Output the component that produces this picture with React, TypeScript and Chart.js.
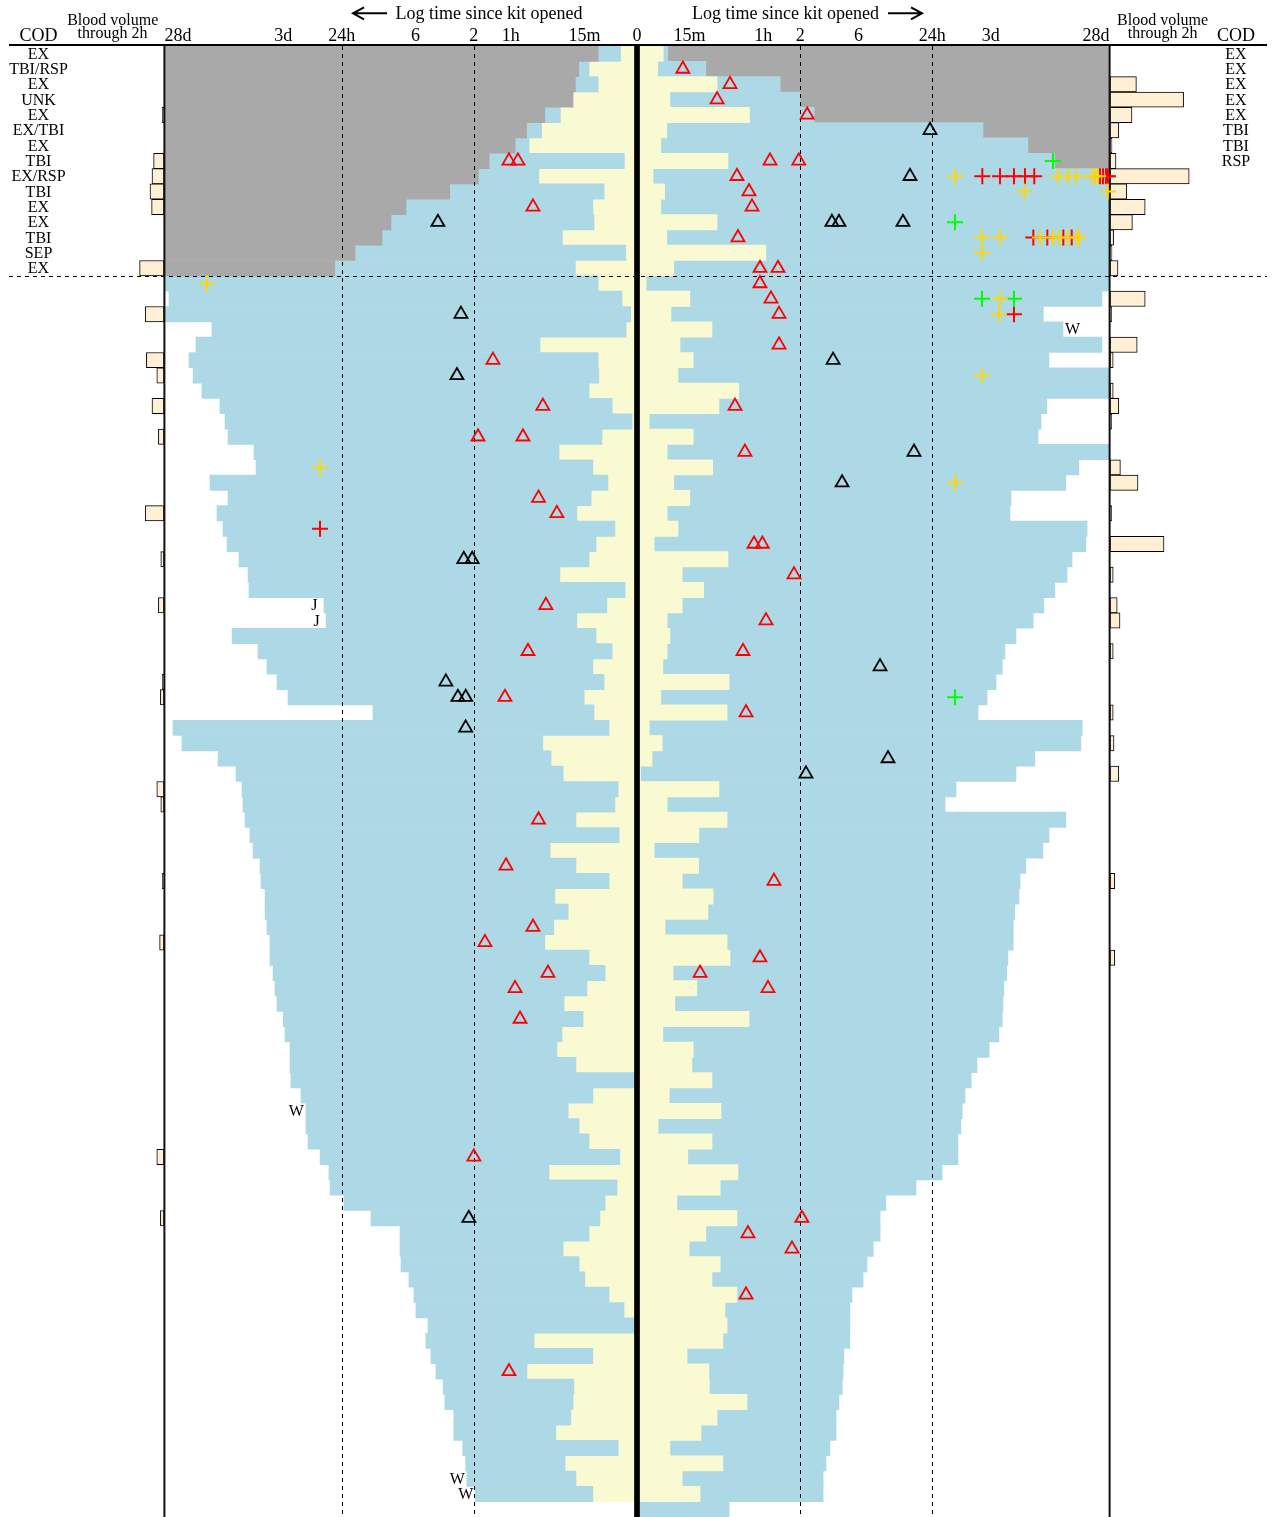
import React, { useEffect, useRef } from 'react';
import { Chart, registerables, LinearScale } from 'chart.js';

Chart.register(...registerables);

// ---------------- data ----------------
const FULL = 40320; // 28 days, in minutes (edge of the time axis)
const GREY_ROWS = 15; // rows above the dashed separator

const codLeft = ['EX', 'TBI/RSP', 'EX', 'UNK', 'EX', 'EX/TBI', 'EX', 'TBI', 'EX/RSP', 'TBI', 'EX', 'EX', 'TBI', 'SEP', 'EX'];
const codRight = ['EX', 'EX', 'EX', 'EX', 'EX', 'TBI', 'TBI', 'RSP'];

const tickMinutes = [15, 60, 120, 360, 1440, 4320, 40320];
const tickLabels = ['15m', '1h', '2', '6', '24h', '3d', '28d'];
const dashedMinutes = [120, 1440];

// minutes since kit opened, per row (left half)
const leftYellow = [
  4.7, 13.7, 11.1, 18.6, 23.6, 33.6, 42.5, 3.6, 35.4, 9.4,
  12.6, 12.3, 22.7, 3.2, 17.8, 11.1, 4.3, 1.8, 3.1, 34.6,
  11.1, 10.9, 13.7, 7.1, 1.4, 10.0, 24.2, 12.6, 8.3, 13.1,
  17.3, 6.3, 11.7, 13.7, 23.8, 3.4, 8.6, 17.3, 11.7, 7.1,
  12.6, 9.4, 15.1, 12.3, 8.0, 32.8, 28.1, 22.4, 5.4, 6.3,
  17.6, 5.1, 28.6, 17.6, 8.0, 26.2, 20.4, 26.7, 31.6, 13.7,
  9.1, 14.3, 22.0, 15.4, 22.9, 25.2, 17.6, 0.6, 12.6, 20.4,
  16.6, 13.7, 4.9, 29.2, 5.7, 9.1, 10.6, 13.7, 22.4, 16.6,
  14.9, 8.0, 3.7, 0.6, 38.7, 12.6, 44.2, 18.3, 18.6, 19.4,
  25.7, 5.4, 21.6, 17.6, 12.6, 0,
];
const leftBlue = [
  11.1, 16.7, 17.8, 18.6, 31.6, 44.6, 55.2, 90, 110, 189,
  430, 570, 675, 1120, 1640, 40320, 37000, 40320, 16500, 22300,
  25400, 23500, 19900, 14200, 12900, 12200, 7480, 7200, 17100, 12200,
  15000, 13400, 12400, 9920, 8370, 8220, 2010, 1930, 11300, 6940,
  5860, 4860, 3950, 800, 34300, 29000, 14700, 10500, 9370, 9200,
  8860, 8070, 7620, 6680, 6560, 6080, 6080, 5860, 5540, 5540,
  5230, 5040, 4860, 4320, 4180, 3800, 3800, 3740, 3090, 2820,
  2820, 2710, 2160, 1830, 1790, 1380, 830, 481, 481, 472,
  407, 370, 357, 284, 296, 269, 245, 214, 207, 175,
  175, 148, 140, 137, 117, 0,
];
// right half
const rightYellow = [
  7.5, 5.9, 25.2, 9.4, 46.3, 8.5, 6.8, 30.9, 4.6, 7.9,
  6.8, 25.2, 8.5, 63.0, 10.5, 2.6, 15.1, 9.7, 22.9, 12.3,
  16.1, 11.7, 37.9, 26.1, 3.5, 16.1, 8.6, 23.2, 10.5, 15.1,
  8.6, 11.7, 4.9, 30.9, 12.9, 19.6, 12.9, 8.6, 9.4, 8.6,
  7.4, 31.6, 6.8, 30.4, 3.5, 7.2, 4.3, 1.0, 26.1, 8.6,
  30.4, 17.9, 4.9, 17.8, 12.9, 23.4, 21.2, 8.0, 30.4, 32.1,
  10.3, 17.2, 10.8, 46.0, 7.4, 16.1, 15.7, 22.9, 9.2, 27.1,
  6.0, 22.9, 14.5, 37.3, 26.7, 11.4, 36.6, 20.4, 14.9, 26.7,
  22.9, 36.6, 29.2, 30.4, 28.1, 14.3, 21.6, 21.8, 44.2, 25.2,
  18.6, 9.4, 28.1, 12.9, 18.3, 0.5,
];
const rightBlue = [
  8.8, 20.4, 82.4, 120, 156, 3730, 8680, 14300, 40320, 40320,
  40320, 40320, 40320, 40320, 40320, 40320, 34900, 11600, 16800, 34900,
  12900, 40320, 40320, 12400, 11100, 10500, 40320, 22600, 17700, 6330,
  6190, 26400, 25800, 19900, 18100, 14400, 11700, 9590, 6940, 5640,
  5360, 4770, 4030, 3400, 24100, 23500, 9880, 6940, 2250, 1830,
  17700, 12900, 11500, 8350, 7500, 7330, 6790, 6590, 6590, 5960,
  5830, 5520, 5430, 5360, 5030, 4190, 3330, 2990, 2660, 2530,
  2460, 2330, 2330, 1730, 1060, 601, 540, 540, 474, 422,
  392, 318, 306, 306, 305, 273, 269, 265, 249, 236,
  236, 210, 195, 185, 185, 31.6,
];

// blood volume through 2h: [row, units]
const bloodLeft: [number, number][] = [
  [4, 0.2], [7, 1.3], [8, 1.5], [9, 1.75], [10, 1.55], [14, 3.05], [17, 2.35], [20, 2.2], [21, 0.9],
  [23, 1.5], [25, 0.7], [30, 2.35], [33, 0.4], [36, 0.7], [41, 0.2], [42, 0.45], [48, 0.9], [49, 0.4],
  [54, 0.2], [58, 0.55], [72, 0.9], [76, 0.45],
];
const bloodRight: [number, number][] = [
  [2, 3.3], [3, 9.2], [4, 2.75], [5, 1.1], [6, 0.25], [7, 0.75], [8, 9.9], [9, 2.1], [10, 4.4],
  [11, 2.8], [12, 0.45], [13, 0.25], [14, 1.0], [16, 4.4], [17, 0.2], [19, 3.4], [20, 0.4], [22, 0.4],
  [23, 1.1], [24, 0.2], [27, 1.3], [28, 3.5], [30, 0.2], [32, 6.75], [34, 0.4], [36, 0.9], [37, 1.25],
  [39, 0.4], [43, 0.4], [45, 0.5], [47, 1.1], [54, 0.6], [59, 0.6],
];

// event markers: [row, minutes] (negative minutes = left half)
const redTriangles: [number, number][] = [
  [1, 13.1], [2, 32.1], [3, 25.2], [4, 137], [7, -62], [7, -52.4], [7, 68.1], [7, 117], [8, 36.6],
  [9, 45.9], [10, -39.5], [10, 48.6], [12, 37.3], [14, 56.4], [14, 79.2], [15, 56.4], [16, 69.4],
  [17, 80.7], [19, 80.7], [20, -83.8], [23, -32.8], [23, 35.3], [25, -111], [25, -47.7], [26, 42.5],
  [29, -35.6], [30, -25.2], [32, 50.4], [32, 59], [34, 107], [36, -31], [37, 63.2], [39, -43.4],
  [39, 41], [42, -66.9], [43, 43.4], [50, -35.6], [53, -65.6], [54, 73.4], [57, -39.5], [58, -97.4],
  [59, 56.4], [60, -29.8], [60, 18.3], [61, -55.3], [61, 65.6], [63, -50.4], [72, -120], [76, 124],
  [77, 45], [78, 103], [81, 43.4], [86, -62],
];
const blackTriangles: [number, number][] = [
  [5, 1378], [8, 946], [11, -236], [11, 218], [11, 249], [11, 829], [17, -153], [20, 223],
  [21, -165], [26, 1020], [28, 264], [33, -145], [33, -124], [40, 539], [41, -203], [42, -162],
  [42, -140], [44, -140], [46, 626], [47, 134], [76, -132],
];
const goldPlus: [number, number][] = [
  [8, 2205], [8, 15290], [8, 18440], [8, 21430], [8, 28950], [8, 30650], [8, 32430], [9, 8110],
  [9, 38900], [12, 3662], [12, 5140], [12, 10900], [12, 13900], [12, 15570], [12, 18340], [12, 21970],
  [12, 22680], [13, 3662], [15, -18100], [16, 5140], [17, 5040], [21, 3662], [27, -2164], [28, 2205],
];
const redPlus: [number, number][] = [
  [8, 3685], [8, 5140], [8, 6680], [8, 8220], [8, 9780], [8, 33650], [8, 35590], [8, 37640], [8, 39100],
  [12, 9610], [12, 12500], [12, 16890], [12, 19770], [17, 6680], [31, -2164],
];
const greenPlus: [number, number][] = [
  [7, 13900], [11, 2205], [16, 3662], [16, 6680], [42, 2205],
];

// letters written next to the end of a row's blue bar
const rowNotes: [number, 'L' | 'R', string][] = [
  [18, 'R', 'W'], [36, 'L', 'J'], [37, 'L', 'J'], [69, 'L', 'W'], [93, 'L', 'W'], [94, 'L', 'W'],
];

// ---------------- scale: linear up to 15 min, log beyond, mirrored ----------------
const LIN_DECADES = 0.4286;
function tf(v: number): number {
  const a = Math.abs(v);
  const t = a <= 15 ? (a / 15) * LIN_DECADES : LIN_DECADES + Math.log10(a / 15);
  return v < 0 ? -t : t;
}
function itf(t: number): number {
  const a = Math.abs(t);
  const v = a <= LIN_DECADES ? (a / LIN_DECADES) * 15 : 15 * Math.pow(10, a - LIN_DECADES);
  return t < 0 ? -v : v;
}

class MirrorLogScale extends LinearScale {
  static id = 'mirrorlog';
  static defaults = {};
  getPixelForValue(value: number) {
    const lo = tf(this.min), hi = tf(this.max);
    return this.getPixelForDecimal((tf(value) - lo) / (hi - lo));
  }
  getValueForPixel(pixel: number) {
    const lo = tf(this.min), hi = tf(this.max);
    return itf(lo + this.getDecimalForPixel(pixel) * (hi - lo));
  }
}
Chart.register(MirrorLogScale);

const X_HALF = itf(5.2);
const SERIF = '"Liberation Serif", "Times New Roman", serif';

const ROWS = leftYellow.length;
const rowIds = Array.from({ length: ROWS }, (_, i) => String(i + 1));

const COLORS = {
  grey: '#a9a9a9',
  blue: '#add8e6',
  yellow: '#fafad2',
  blood: '#ffefd5',
};

function buildDatasets(): any[] {
  const lGrey = rowIds.map((_, i) => (i < GREY_ROWS && leftBlue[i] < FULL ? [-FULL, -leftBlue[i]] : null));
  const lBlue = rowIds.map((_, i) => (leftBlue[i] > leftYellow[i] ? [-leftBlue[i], -leftYellow[i]] : null));
  const lYel = rowIds.map((_, i) => (leftYellow[i] > 0 ? [-leftYellow[i], 0] : null));
  const rYel = rowIds.map((_, i) => (rightYellow[i] > 0 ? [0, rightYellow[i]] : null));
  const rBlue = rowIds.map((_, i) => (rightBlue[i] > rightYellow[i] ? [rightYellow[i], rightBlue[i]] : null));
  const rGrey = rowIds.map((_, i) => (i < GREY_ROWS && rightBlue[i] < FULL ? [rightBlue[i], FULL] : null));
  const bvL: any[] = rowIds.map(() => null);
  bloodLeft.forEach(([r, v]) => (bvL[r] = [0, v]));
  const bvR: any[] = rowIds.map(() => null);
  bloodRight.forEach(([r, v]) => (bvR[r] = [0, v]));

  const bar = (label: string, data: any[], color: string, xAxisID = 'x', extra: any = {}) => ({
    type: 'bar',
    label,
    data,
    backgroundColor: color,
    borderWidth: 0,
    grouped: false,
    barPercentage: 1,
    categoryPercentage: 1,
    xAxisID,
    yAxisID: 'y',
    order: 3,
    ...extra,
  });
  const pts = (list: [number, number][]) =>
    [...list].sort((a, b) => a[0] - b[0]).map(([r, m]) => ({ x: m, y: rowIds[r] }));
  const marker = (label: string, list: [number, number][], color: string, style: string, radius: number, width: number) => ({
    type: 'scatter',
    label,
    data: pts(list),
    pointStyle: style,
    pointRadius: radius,
    pointBorderWidth: width,
    borderWidth: width,
    borderColor: color,
    pointBorderColor: color,
    backgroundColor: 'rgba(0,0,0,0)',
    pointBackgroundColor: 'rgba(0,0,0,0)',
    showLine: false,
    clip: false,
    xAxisID: 'x',
    yAxisID: 'y',
    order: 1,
  });

  return [
    marker('red triangle', redTriangles, '#ff0000', 'triangle', 7.5, 1.8),
    marker('black triangle', blackTriangles, '#000000', 'triangle', 7.5, 1.8),
    marker('gold plus', goldPlus, '#ffd700', 'cross', 8, 2),
    marker('green plus', greenPlus, '#00ff00', 'cross', 8, 2),
    marker('red plus', redPlus, '#ff0000', 'cross', 8, 2),
    bar('left grey', lGrey, COLORS.grey),
    bar('left blue', lBlue, COLORS.blue),
    bar('left yellow', lYel, COLORS.yellow),
    bar('right yellow', rYel, COLORS.yellow),
    bar('right blue', rBlue, COLORS.blue),
    bar('right grey', rGrey, COLORS.grey),
    bar('blood left', bvL, COLORS.blood, 'xbvL', { borderWidth: 1, borderColor: '#000', borderSkipped: false }),
    bar('blood right', bvR, COLORS.blood, 'xbvR', { borderWidth: 1, borderColor: '#000', borderSkipped: false }),
  ];
}

function drawGuides(chart: any) {
  const { ctx, chartArea, scales } = chart;
  const x = scales.x, y = scales.y;
  ctx.save();
  ctx.strokeStyle = '#000';
  ctx.lineWidth = 1;
  ctx.setLineDash([4, 4]);
  for (const m of dashedMinutes) {
    for (const s of [-1, 1]) {
      const px = Math.round(x.getPixelForValue(s * m)) + 0.5;
      ctx.beginPath();
      ctx.moveTo(px, chartArea.top);
      ctx.lineTo(px, chartArea.bottom);
      ctx.stroke();
    }
  }
  const yb = Math.round((y.getPixelForValue(GREY_ROWS - 1) + y.getPixelForValue(GREY_ROWS)) / 2) + 0.5;
  ctx.beginPath();
  ctx.moveTo(9, yb);
  ctx.lineTo(1267, yb);
  ctx.stroke();
  ctx.setLineDash([]);
  ctx.lineWidth = 2;
  ctx.strokeStyle = '#111';
  for (const s of [-1, 1]) {
    const px = x.getPixelForValue(s * FULL);
    ctx.beginPath();
    ctx.moveTo(px, 45);
    ctx.lineTo(px, chartArea.bottom);
    ctx.stroke();
  }
  ctx.restore();
}

function drawFrame(chart: any) {
  const { ctx, chartArea, scales } = chart;
  const x = scales.x, y = scales.y;
  ctx.save();
  // top rule
  ctx.strokeStyle = '#000';
  ctx.lineWidth = 2;
  ctx.beginPath();
  ctx.moveTo(9, 45);
  ctx.lineTo(1267, 45);
  ctx.stroke();
  // centre line at time 0
  const cx = x.getPixelForValue(0);
  ctx.lineWidth = 5.7;
  ctx.beginPath();
  ctx.moveTo(cx, 44);
  ctx.lineTo(cx, chartArea.bottom);
  ctx.stroke();

  ctx.fillStyle = '#000';
  ctx.textBaseline = 'alphabetic';
  // tick labels
  ctx.font = `18px ${SERIF}`;
  tickMinutes.forEach((m, i) => {
    for (const s of [-1, 1]) {
      const px = x.getPixelForValue(s * m);
      const lab = tickLabels[i];
      ctx.textAlign = m === FULL ? (s < 0 ? 'left' : 'right') : 'center';
      ctx.fillText(lab, px, 40.5);
    }
  });
  ctx.textAlign = 'center';
  ctx.fillText('0', cx, 40.5);
  ctx.fillText('COD', 38.5, 40.5);
  ctx.fillText('COD', 1236, 40.5);
  // titles
  ctx.fillText('Log time since kit opened', 489, 18.5);
  ctx.fillText('Log time since kit opened', 785.5, 18.5);
  // arrows
  ctx.lineWidth = 2;
  const arrow = (x0: number, x1: number, yy: number) => {
    const dir = Math.sign(x1 - x0);
    ctx.beginPath();
    ctx.moveTo(x0, yy);
    ctx.lineTo(x1, yy);
    ctx.moveTo(x1 - dir * 11, yy - 6);
    ctx.lineTo(x1, yy);
    ctx.lineTo(x1 - dir * 11, yy + 6);
    ctx.stroke();
  };
  arrow(387, 353, 13.3);
  arrow(888, 922, 13.3);
  // blood volume headers
  ctx.font = `16px ${SERIF}`;
  ctx.fillText('Blood volume', 112.7, 25);
  ctx.fillText('through 2h', 112.5, 37.5);
  ctx.fillText('Blood volume', 1162.6, 25);
  ctx.fillText('through 2h', 1162.6, 37.5);
  // cause of death labels
  codLeft.forEach((t, i) => ctx.fillText(t, 38.5, y.getPixelForValue(i) + 5));
  codRight.forEach((t, i) => ctx.fillText(t, 1236, y.getPixelForValue(i) + 5));
  // row notes
  rowNotes.forEach(([r, side, t]) => {
    const px = side === 'L' ? x.getPixelForValue(-leftBlue[r]) - 9.5 : x.getPixelForValue(rightBlue[r]) + 9.5;
    ctx.fillText(t, px, y.getPixelForValue(r) + 5);
  });
  ctx.restore();
}

const decor = {
  id: 'decor',
  beforeDraw(chart: any) {
    chart.$guidesDone = false;
  },
  beforeDatasetDraw(chart: any, args: any) {
    if (args.meta.type === 'scatter' && !chart.$guidesDone) {
      drawGuides(chart);
      chart.$guidesDone = true;
    }
  },
  afterDraw(chart: any) {
    if (!chart.$guidesDone) drawGuides(chart);
    drawFrame(chart);
  },
};

export default function App() {
  const ref = useRef<HTMLCanvasElement>(null);
  useEffect(() => {
    const canvas = ref.current;
    if (!canvas) return;
    const chart = new Chart(canvas, {
      type: 'bar',
      data: { labels: rowIds, datasets: buildDatasets() },
      options: {
        indexAxis: 'y',
        responsive: false,
        animation: false,
        devicePixelRatio: 1,
        events: [],
        layout: { autoPadding: false, padding: { top: 46, left: 0, right: 0, bottom: 0 } },
        plugins: { legend: { display: false }, tooltip: { enabled: false } },
        scales: {
          x: { type: 'mirrorlog', min: -X_HALF, max: X_HALF, display: false },
          xbvL: { type: 'linear', axis: 'x', reverse: true, min: -138.75, max: 20.5, display: false },
          xbvR: { type: 'linear', axis: 'x', min: -138.75, max: 20.5, display: false },
          y: { type: 'category', offset: true, display: false },
        },
      } as any,
      plugins: [decor],
    } as any);
    return () => chart.destroy();
  }, []);
  return (
    <div style={{ position: 'absolute', left: 0, top: 0, width: 1274, height: 1517, background: '#fff' }}>
      <canvas ref={ref} width={1274} height={1517} style={{ display: 'block' }} />
    </div>
  );
}
